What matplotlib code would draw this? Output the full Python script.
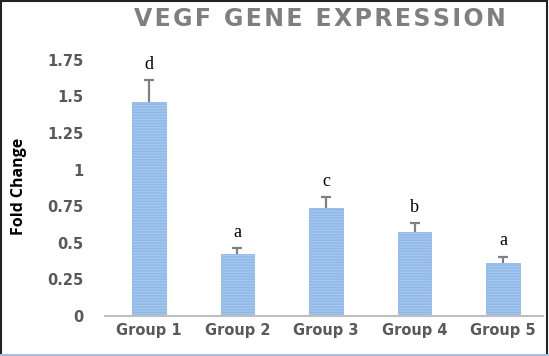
import matplotlib.pyplot as plt
import matplotlib
from matplotlib.lines import Line2D

groups = ['Group 1', 'Group 2', 'Group 3', 'Group 4', 'Group 5']
fold_change = [1.46, 0.425, 0.736, 0.574, 0.364]
sd = [0.15, 0.04, 0.077, 0.062, 0.042]
letters = ['d', 'a', 'c', 'b', 'a']
yticks = [0, 0.25, 0.5, 0.75, 1, 1.25, 1.5, 1.75]
yticklabels = ['0', '0.25', '0.5', '0.75', '1', '1.25', '1.5', '1.75']

matplotlib.rcParams['hatch.linewidth'] = 1.1
matplotlib.rcParams['hatch.color'] = '#4f8fda'

fig = plt.figure(figsize=(5.49, 3.56), dpi=100)
ax = fig.add_axes([104.6 / 549, 1 - 316 / 356, (543 - 104.6) / 549, (316 - 52.6) / 356])

x = range(len(groups))
ax.bar(x, fold_change, width=0.38, color='#a6c8ef', edgecolor='#8fb8e8',
       linewidth=0.6, hatch='------', zorder=2)
eb = ax.errorbar(x, fold_change, yerr=[[0] * len(sd), sd], fmt='none',
                 ecolor='#808080', elinewidth=1.6, capsize=3.5, capthick=1.6, zorder=3)
# only the upper cap is wanted
eb[1][0].set_visible(False)

for i, (v, e, t) in enumerate(zip(fold_change, sd, letters)):
    ax.annotate(t, (i, v + e), xytext=(0, 8), textcoords='offset points',
                ha='center', va='baseline', fontsize=13,
                family='Liberation Serif', color='black')

ax.set_xlim(-0.5, 4.45)
ax.set_ylim(0, 1.8)
ax.set_yticks(yticks)
ax.set_yticklabels(yticklabels)
ax.set_xticks(list(x))
ax.set_xticklabels(groups)
for lab in ax.get_xticklabels() + ax.get_yticklabels():
    lab.set_fontweight('bold')
    lab.set_color('#595959')
    lab.set_fontsize(10.5)
ax.tick_params(axis='both', length=0)
ax.tick_params(axis='y', pad=15)
ax.tick_params(axis='x', pad=5)
for s in ['top', 'right', 'left']:
    ax.spines[s].set_visible(False)
ax.spines['bottom'].set_color('#bfbfbf')
ax.spines['bottom'].set_linewidth(1.5)

fig.text(19 / 549, 1 - 186 / 356, 'Fold Change', rotation=90, ha='center',
         va='center', fontsize=11.5, fontweight='bold', family='Open Sans',
         color='black')
fig.text(320 / 549, 1 - 19 / 356, '\u200a'.join('VEGF GENE EXPRESSION'),
         ha='center', va='center', fontsize=17, fontweight='bold',
         color='#7f7f7f')

# frame around the picture
fig.add_artist(Line2D([0.5 / 549, 0.5 / 549], [0, 1], color='#222222', lw=1.5))
fig.add_artist(Line2D([0, 547 / 549], [1 - 0.7 / 356, 1 - 0.7 / 356], color='#222222', lw=1.5))
fig.add_artist(Line2D([546.5 / 549, 546.5 / 549], [2 / 356, 1], color='#222222', lw=1.5))
fig.add_artist(Line2D([0, 1], [1.5 / 356, 1.5 / 356], color='#a9bde3', lw=1.5))

fig.savefig('out.png', dpi=100)
